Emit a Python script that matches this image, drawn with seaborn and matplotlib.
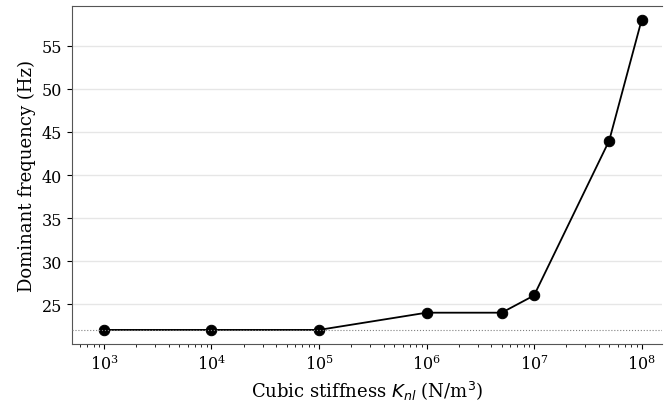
import numpy as np
import pandas as pd
import matplotlib
matplotlib.use("Agg")
import matplotlib.pyplot as plt
import seaborn as sns

# Dominant frequency vs cubic stiffness
stiffness = [1e3, 1e4, 1e5, 1e6, 5e6, 1e7, 5e7, 1e8]
frequency = [22, 22, 22, 24, 24, 26, 44, 58]
baseline_freq = 22

df = pd.DataFrame({"K_nl": stiffness, "freq": frequency})

sns.set_style("ticks")
plt.rcParams["font.family"] = ["DejaVu Serif"]
plt.rcParams["mathtext.fontset"] = "dejavusans"
for key in ["text.color", "axes.labelcolor", "xtick.color", "ytick.color"]:
    plt.rcParams[key] = "black"

fig, ax = plt.subplots(figsize=(6.64, 4.06), dpi=100)
ax.yaxis.grid(True, color="#e6e6e6", linewidth=1.0, zorder=0)
ax.set_axisbelow(True)

sns.lineplot(data=df, x="K_nl", y="freq", ax=ax, color="black", linewidth=1.3,
             marker="o", markersize=7.5, markeredgecolor="black", zorder=3)
ax.axhline(baseline_freq, color="gray", linestyle=":", linewidth=0.8, zorder=4)

ax.set_xscale("log")
ax.set_xlim(10 ** 2.70, 10 ** 8.19)
ax.set_ylim(20.35, 59.65)
ax.set_yticks([25, 30, 35, 40, 45, 50, 55])

ax.set_xlabel(r"Cubic stiffness $K_{nl}$ (N/m$^3$)", fontsize=13)
ax.set_ylabel("Dominant frequency (Hz)", fontsize=13)
ax.tick_params(labelsize=11.5)

for side in ["left", "bottom", "top"]:
    ax.spines[side].set_color("#555555")
ax.spines["right"].set_visible(False)

plt.subplots_adjust(left=0.108, right=0.997, top=0.983, bottom=0.15)
plt.savefig("out.png", dpi=100)
